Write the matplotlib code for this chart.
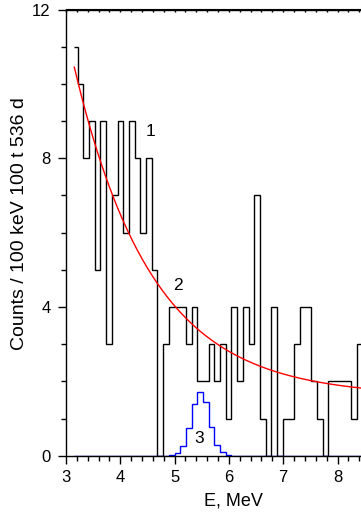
import numpy as np
import matplotlib
matplotlib.use("Agg")
import matplotlib.pyplot as plt
from matplotlib.ticker import MultipleLocator

plt.rcParams['font.family'] = ['Liberation Sans', 'DejaVu Sans']

# measured spectrum (counts per bin), first bin is partial, last one runs off the plot
counts = [11,
          10, 8, 9, 5, 9, 3, 7, 9, 6, 9, 8, 6, 8, 5, 0, 3, 4, 4, 4, 3,
          4, 2, 2, 3, 2, 3, 1, 4, 2, 4, 3, 7, 1, 0, 4, 0, 1, 1, 3, 4,
          4, 2, 1, 0, 2, 2, 2, 2, 1,
          3]
# expected signal shape (curve 3) on the same bins
signal = [0,
          0, 0, 0, 0, 0, 0, 0, 0, 0, 0, 0, 0, 0, 0, 0, 0, 0.03, 0.07, 0.27, 0.75,
          1.39, 1.72, 1.44, 0.78, 0.30, 0.09, 0.03, 0, 0, 0, 0, 0, 0, 0, 0, 0, 0, 0, 0, 0,
          0, 0, 0, 0, 0, 0, 0, 0, 0,
          0]
# exponential background fit (curve 2)
fit_a, fit_b, fit_k, fit_x0 = 1.6, 8.85, 0.70, 3.153

e_start = 3.155
e_first = 3.2155
bin_w = 0.1049
edges = np.concatenate([[e_start], e_first + bin_w * np.arange(len(counts))])

fig = plt.figure(figsize=(3.61, 5.13), dpi=100)
ax = fig.add_axes([66 / 361, 57.3 / 513, 1 - 66 / 361, 446.2 / 513])

ax.stairs(counts, edges, baseline=None, color='black', lw=1.0)
ax.stairs(signal, edges, baseline=None, color='#0000ff', lw=1.0)

xf = np.linspace(fit_x0, 8.5, 300)
ax.plot(xf, fit_a + fit_b * np.exp(-fit_k * (xf - fit_x0)), color='#ff0000', lw=1.0)

ax.text(4.547, 8.71, '1', fontsize=12.5, ha='center', va='center')
ax.text(5.063, 4.59, '2', fontsize=12.5, ha='center', va='center')
ax.text(5.455, 0.46, '3', fontsize=12.5, ha='center', va='center')

ax.set_xlim(3, 3 + 295 / 54.3)
ax.set_ylim(0, 12)
ax.xaxis.set_major_locator(MultipleLocator(1))
ax.xaxis.set_minor_locator(MultipleLocator(0.2))
ax.yaxis.set_major_locator(MultipleLocator(4))
ax.yaxis.set_minor_locator(MultipleLocator(1))
ax.tick_params(which='major', direction='out', length=6, width=1, labelsize=12, pad=5)
ax.tick_params(which='minor', direction='out', length=3.5, width=1)
ax.tick_params(axis='x', pad=4)
ax.spines['right'].set_visible(False)
for s in ['left', 'bottom', 'top']:
    ax.spines[s].set_linewidth(1.0)

# tiny ticks along the top frame
top = ax.secondary_xaxis('top')
top.xaxis.set_major_locator(MultipleLocator(0.2))
top.tick_params(direction='in', length=1.8, width=1, labeltop=False)

ax.set_xlabel('E, MeV', fontsize=13)
ax.xaxis.set_label_coords(0.566, -0.082)
ax.set_ylabel('Counts / 100 keV 100 t 536 d', fontsize=14)
ax.yaxis.set_label_coords(-0.13, 0.52)

fig.savefig('out.png', dpi=100)
